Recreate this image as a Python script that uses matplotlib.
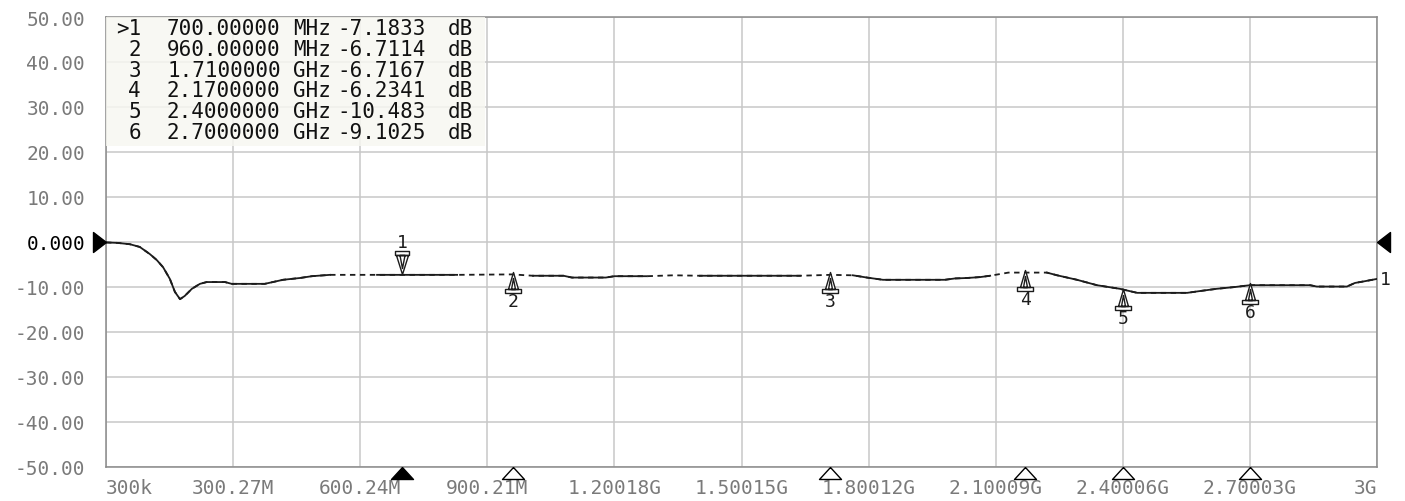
import numpy as np
import matplotlib
matplotlib.use('Agg')
from matplotlib import pyplot as plt
from matplotlib.path import Path
from matplotlib.patches import Rectangle

# trace (frequency in MHz, level in dB)
freq_mhz = [0.3, 28, 57, 80, 104, 120, 135, 151, 163, 175, 186, 203, 222, 238,
            281, 297, 375, 418, 458, 486, 529, 585, 640, 700, 829, 960, 1008,
            1080, 1100, 1180, 1200, 1277, 1340, 1402, 1638, 1710, 1763, 1796,
            1834, 1980, 2004, 2032, 2063, 2087, 2130, 2221, 2245, 2292, 2339,
            2393, 2434, 2552, 2582, 2622, 2665, 2700, 2842, 2858, 2929, 2948,
            2972, 3000]
level_db = [-0.1, -0.2, -0.5, -1.1, -2.7, -4.0, -5.6, -8.2, -11.1, -12.7, -12.0,
            -10.4, -9.3, -8.9, -8.9, -9.3, -9.3, -8.4, -8.0, -7.6, -7.3, -7.3,
            -7.3, -7.3, -7.3, -7.2, -7.5, -7.5, -7.9, -7.9, -7.6, -7.6, -7.4,
            -7.5, -7.5, -7.3, -7.4, -7.9, -8.4, -8.4, -8.1, -8.0, -7.8, -7.5,
            -6.8, -6.8, -7.4, -8.4, -9.6, -10.4, -11.3, -11.3, -10.9, -10.4,
            -10.0, -9.6, -9.6, -9.9, -9.9, -9.1, -8.7, -8.2]

# parts of the trace the screen draws dotted
dotted_spans = [(529, 640), (829, 1008), (1277, 1402), (1638, 1763), (2087, 2221)]

marker_ids = [1, 2, 3, 4, 5, 6]
marker_freq = [700.0, 960.0, 1710.0, 2170.0, 2400.0, 2700.0]
marker_db = [-7.1833, -6.7114, -6.7167, -6.2341, -10.483, -9.1025]
marker_freq_txt = ['700.00000', '960.00000', '1.7100000', '2.1700000', '2.4000000', '2.7000000']
marker_unit = ['MHz', 'MHz', 'GHz', 'GHz', 'GHz', 'GHz']
marker_db_txt = ['-7.1833', '-6.7114', '-6.7167', '-6.2341', '-10.483', '-9.1025']

x_ticks = [0.3, 300.27, 600.24, 900.21, 1200.18, 1500.15, 1800.12, 2100.09, 2400.06, 2700.03, 3000]
x_labels = ['300k', '300.27M', '600.24M', '900.21M', '1.20018G', '1.50015G',
            '1.80012G', '2.10009G', '2.40006G', '2.70003G', '3G']
y_ticks = [50, 40, 30, 20, 10, 0, -10, -20, -30, -40, -50]
y_labels = ['50.00', '40.00', '30.00', '20.00', '10.00', '0.000',
            '-10.00', '-20.00', '-30.00', '-40.00', '-50.00']

MONO = 'DejaVu Sans Mono'
INK = '#1c1c1c'
W, H = 1405, 502


def px_marker(verts, codes=None):
    # marker path given in pixels, tip at (0, 0); returns (path, markersize)
    verts = np.asarray(verts, float)
    size = 2 * np.abs(verts).max() * 72 / 100
    return Path(verts, codes), size


def closed(pts):
    return [Path.MOVETO] + [Path.LINETO] * (len(pts) - 2) + [Path.CLOSEPOLY]


tri_up = [(0, 0), (-5, -17), (5, -17), (0, 0)]
inner_up = [(0, -6), (-2, -17), (2, -17), (0, -6)]
plate_up = [(-8, -17), (8, -17), (8, -21), (-8, -21), (-8, -17)]
up_path, up_size = px_marker(tri_up + inner_up + plate_up,
                             closed(tri_up) + closed(inner_up) + closed(plate_up))

tri_dn = [(0, 0), (-6, 19), (6, 19), (0, 0)]
inner_dn = [(0, 6), (-2.5, 19), (2.5, 19), (0, 6)]
plate_dn = [(-7, 19), (7, 19), (7, 23), (-7, 23), (-7, 19)]
dn_path, dn_size = px_marker(tri_dn + inner_dn + plate_dn,
                             closed(tri_dn) + closed(inner_dn) + closed(plate_dn))

axis_path, axis_size = px_marker([(0, 0), (-11, -12), (11, -12), (0, 0)])
left_path, left_size = px_marker([(0, 0), (-13, 10), (-13, -10), (0, 0)])
right_path, right_size = px_marker([(0, 0), (13, 10), (13, -10), (0, 0)])

fig = plt.figure(figsize=(W / 100, H / 100), dpi=100)
ax = fig.add_axes([106 / W, 1 - 468 / H, 1271 / W, 450 / H])

f = np.array(freq_mhz)
db = np.array(level_db)
inside = np.zeros(len(f), bool)
for lo, hi in dotted_spans:
    inside |= (f > lo) & (f < hi)
ax.plot(f, db, color=INK, lw=1.3, ls=(0, (3, 2.5)), zorder=3)
ax.plot(f, np.where(inside, np.nan, db), color=INK, lw=1.3, zorder=3)

ax.set_xlim(0.3, 3000)
ax.set_ylim(-50, 50)
ax.set_xticks(x_ticks)
ax.set_xticklabels(x_labels)
ax.set_yticks(y_ticks)
ax.set_yticklabels(y_labels)
ax.tick_params(length=0, labelsize=14, labelcolor='#7a7a7a')
ax.tick_params(axis='y', pad=15)
ax.tick_params(axis='x', pad=8)
for lab in ax.get_xticklabels() + ax.get_yticklabels():
    lab.set_family(MONO)
ax.get_yticklabels()[5].set_color('black')
xl = ax.get_xticklabels()
xl[0].set_ha('left')
xl[-1].set_ha('right')
ax.grid(True, color='#c8c8c8', lw=1.1)
ax.set_axisbelow(True)
for s in ax.spines.values():
    s.set_color('#8a8a8a')
    s.set_linewidth(1.1)

# markers on the trace
for i, (mid, mf, md) in enumerate(zip(marker_ids, marker_freq, marker_db)):
    if i == 0:
        ax.plot(mf, md, marker=dn_path, ms=dn_size, mfc='white', mec=INK, mew=1.0, zorder=5)
        ax.annotate(str(mid), (mf, md), xytext=(0, 23), textcoords='offset points',
                    ha='center', va='center', fontsize=13, family=MONO, color=INK)
        ax.plot(mf, -50, marker=axis_path, ms=axis_size, mfc='black', mec='black',
                clip_on=False, zorder=6)
    else:
        ax.plot(mf, md, marker=up_path, ms=up_size, mfc='white', mec=INK, mew=1.0, zorder=5)
        ax.annotate(str(mid), (mf, md), xytext=(0, -21), textcoords='offset points',
                    ha='center', va='center', fontsize=13, family=MONO, color=INK)
        ax.plot(mf, -50, marker=axis_path, ms=axis_size, mfc='white', mec='black', mew=1.0,
                clip_on=False, zorder=6)

# reference level arrows and trace number
ax.plot(0.3, 0, marker=left_path, ms=left_size, color='black', clip_on=False, zorder=6)
ax.plot(3000, 0, marker=right_path, ms=right_size, color='black', clip_on=False, zorder=6)
ax.annotate('1', (3000, level_db[-1]), xytext=(2, 0), textcoords='offset points',
            ha='left', va='center', fontsize=13, family=MONO, color=INK, annotation_clip=False)

# marker readout box
ax.add_patch(Rectangle((0, 1 - 129 / 450), 379 / 1271, 129 / 450, transform=ax.transAxes,
                       facecolor='#f7f7f1', edgecolor='none', alpha=0.85, zorder=4))
cols = [(141, 'right'), (167, 'left'), (293, 'left'), (337, 'left'), (448, 'left')]
for i in range(len(marker_ids)):
    y = 1 - (29 + i * 20.8) / H
    tag = ('>' if i == 0 else '') + str(marker_ids[i])
    cells = [tag, marker_freq_txt[i], marker_unit[i], marker_db_txt[i], 'dB']
    for (cx, ha), txt in zip(cols, cells):
        fig.text(cx / W, y, txt, ha=ha, va='center', fontsize=15, family=MONO,
                 color='#111111', zorder=7)

fig.savefig('out.png', dpi=100, facecolor='white')
